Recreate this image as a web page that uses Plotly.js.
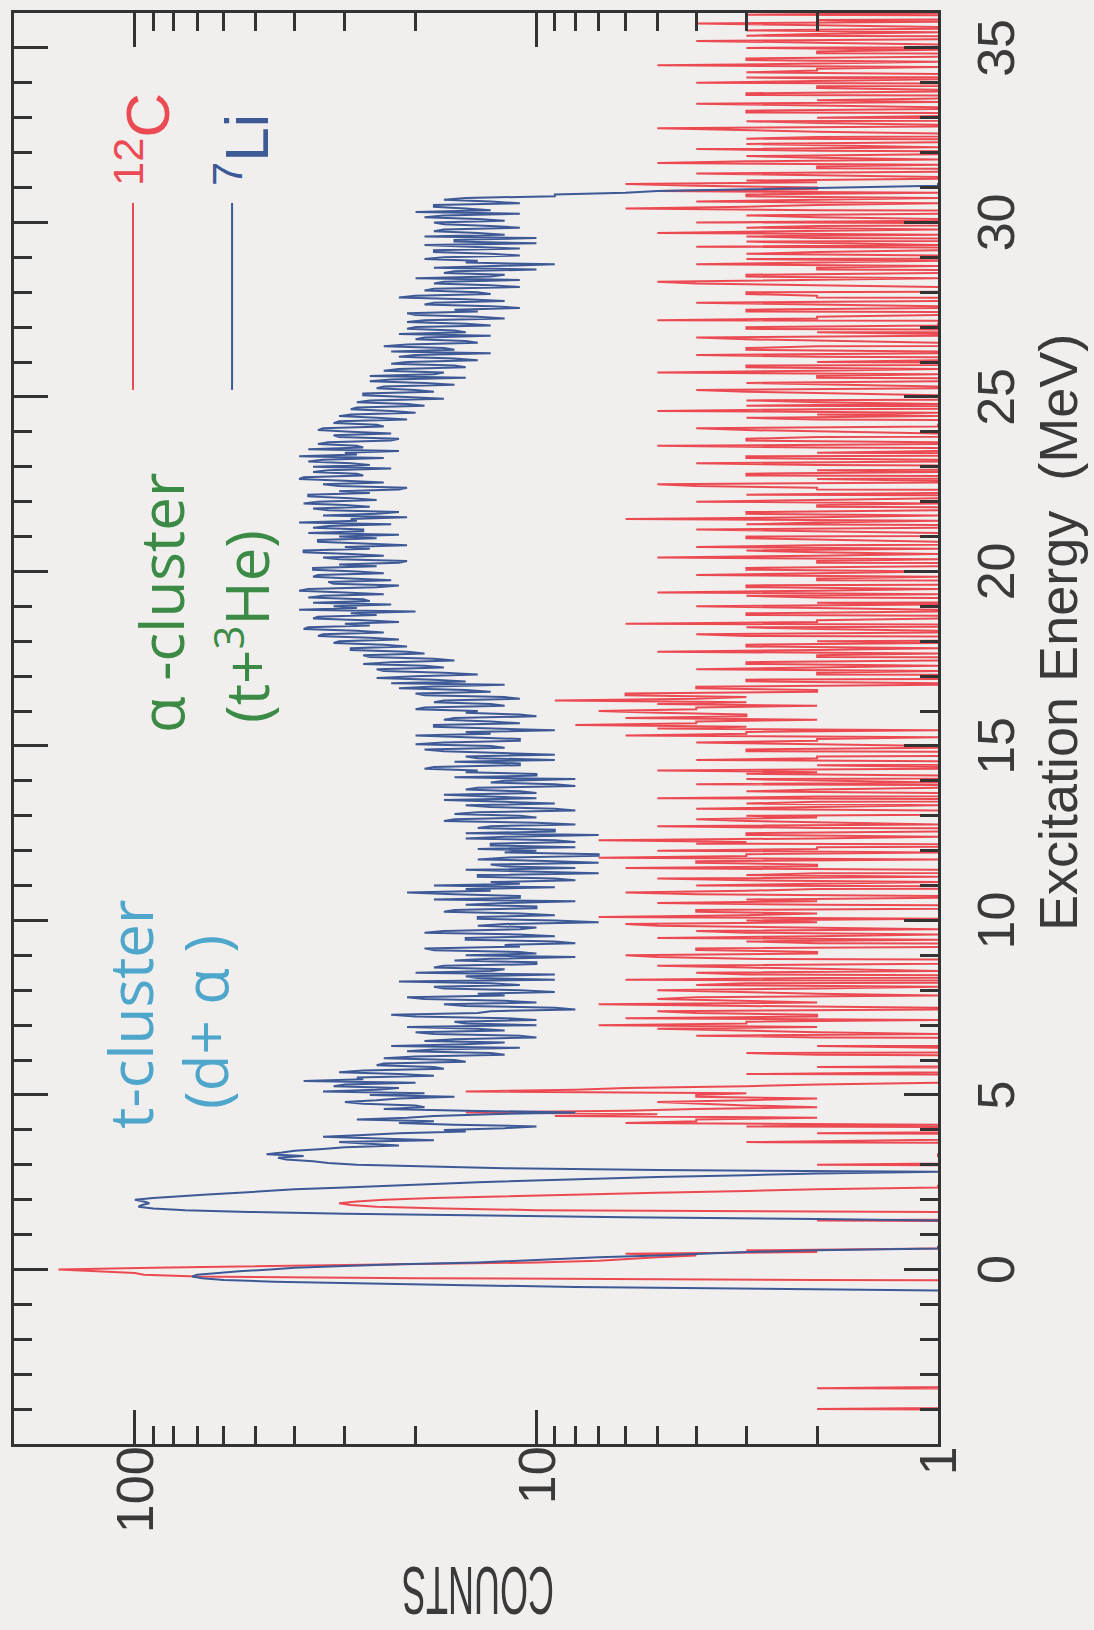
<!DOCTYPE html>
<html>
<head>
<meta charset="utf-8">
<script src="https://cdn.plot.ly/plotly-3.0.1.min.js"></script>
<style>
  html, body { margin: 0; padding: 0; background: #f1eeee; width: 1094px; height: 1630px; overflow: hidden; }
  /* The spectrum is laid out landscape and turned a quarter turn counter-clockwise on the page. */
  #spectrum { position: absolute; left: 0; top: 1630px; width: 1630px; height: 1094px;
              transform-origin: 0 0; transform: rotate(-90deg); }
</style>
</head>
<body>
<div id="spectrum"></div>
<script>
// Histogram channels: 0.05 MeV wide; first channel centre given per spectrum.
const BIN_WIDTH = 0.05;
const LI7_START = -1.0;
const C12_START = -4.5;

// 7Li target, counts per channel, one MeV per row, from -1.0 MeV to 31.5 MeV
const li7Counts = [
  0, 0, 0, 0, 0, 0, 0, 0, 1, 3, 8, 15, 30, 45, 60, 68, 72, 70, 62, 55,              // -1
  46, 40, 30, 22, 14, 11, 9, 7, 5, 4, 3, 2, 1, 1, 0, 0, 0, 0, 0, 0,                 //  0
  0, 0, 0, 0, 0, 0, 0, 0, 1, 2, 6, 14, 30, 52, 75, 90, 98, 96, 92, 95,              //  1
  100, 90, 78, 66, 55, 48, 40, 30, 22, 18, 14, 10, 8, 5, 3, 2, 1, 5, 12, 20,        //  2
  28, 33, 36, 42, 44, 38, 47, 43, 40, 34, 30, 22, 26, 31, 18, 25, 34, 27, 22, 15,   //  3
  17, 12, 10, 16, 22, 18, 28, 21, 18, 13, 8, 15, 24, 19, 20, 27, 30, 25, 22, 16,    //  4
  26, 19, 34, 25, 22, 32, 30, 20, 38, 27, 28, 18, 22, 31, 27, 17, 18, 25, 24, 15,   //  5
  16, 24, 20, 12, 13, 21, 18, 11, 23, 15, 12, 19, 16, 10, 11, 18, 20, 12, 14, 21,   //  6
  10, 15, 16, 10, 12, 20, 23, 14, 13, 8, 9, 15, 17, 10, 12, 19, 21, 12, 14, 9,      //  7
  11, 17, 18, 11, 13, 22, 9, 14, 15, 9, 20, 13, 12, 18, 17, 10, 10, 16, 13, 8,      //  8
  15, 10, 11, 18, 19, 11, 12, 8, 9, 15, 15, 9, 11, 19, 17, 11, 10, 14, 12, 7,       //  9
  9, 14, 14, 9, 11, 17, 16, 10, 10, 15, 12, 8, 18, 11, 11, 16, 21, 13, 15, 9,       // 10
  18, 11, 13, 8, 9, 14, 14, 7, 10, 15, 8, 12, 13, 7, 9, 14, 12, 7, 7, 12,           // 11
  10, 14, 8, 13, 13, 8, 9, 15, 12, 7, 15, 9, 9, 14, 13, 8, 10, 17, 16, 10,          // 12
  11, 16, 14, 8, 9, 13, 15, 9, 12, 17, 10, 14, 17, 10, 11, 15, 14, 8, 9, 13,        // 13
  12, 8, 16, 10, 10, 15, 14, 19, 18, 11, 11, 16, 9, 14, 15, 9, 12, 17, 19, 12,      // 14
  13, 20, 17, 11, 11, 16, 20, 13, 15, 9, 12, 18, 18, 11, 13, 17, 16, 10, 11, 15,    // 15
  14, 20, 19, 12, 13, 18, 17, 11, 12, 19, 20, 13, 15, 22, 18, 12, 23, 15, 18, 25,   // 16
  20, 14, 17, 24, 25, 17, 19, 27, 23, 16, 18, 26, 27, 19, 21, 29, 29, 21, 24, 32,   // 17
  31, 22, 26, 35, 34, 24, 28, 38, 37, 26, 30, 22, 27, 36, 35, 25, 29, 20, 39, 28,   // 18
  32, 23, 36, 26, 27, 37, 34, 24, 30, 39, 37, 25, 22, 32, 33, 23, 29, 36, 35, 24,   // 19
  28, 36, 36, 25, 31, 22, 21, 31, 34, 24, 29, 38, 38, 26, 30, 21, 27, 35, 35, 25,   // 20
  31, 22, 37, 27, 27, 36, 33, 23, 39, 28, 29, 21, 34, 25, 22, 33, 36, 26, 30, 38,   // 21
  35, 25, 29, 37, 37, 26, 31, 22, 21, 31, 34, 24, 30, 39, 38, 27, 28, 36, 33, 23,   // 22
  36, 26, 29, 37, 34, 24, 39, 28, 30, 22, 37, 27, 28, 35, 33, 23, 22, 31, 32, 23,   // 23
  29, 35, 34, 24, 25, 32, 31, 21, 25, 31, 29, 20, 23, 29, 28, 19, 21, 28, 26, 17,   // 24
  21, 27, 27, 18, 20, 25, 24, 16, 19, 26, 23, 15, 26, 18, 17, 24, 22, 15, 16, 23,   // 25
  21, 14, 16, 22, 20, 13, 23, 16, 17, 24, 21, 14, 15, 20, 19, 13, 22, 15, 16, 21,   // 26
  20, 13, 15, 21, 19, 12, 14, 20, 21, 14, 16, 11, 13, 19, 18, 12, 15, 22, 20, 13,   // 27
  14, 19, 18, 11, 13, 18, 17, 11, 20, 13, 12, 17, 16, 10, 18, 12, 9, 15, 14, 19,    // 28
  17, 11, 13, 18, 18, 11, 14, 19, 10, 16, 16, 10, 19, 12, 14, 18, 17, 11, 13, 17,   // 29
  18, 12, 14, 19, 17, 11, 20, 13, 15, 18, 18, 11, 13, 17, 15, 9, 9, 6, 5, 3,        // 30
  2, 1, 1, 0, 0, 0, 0, 0, 0, 0, 0                                                   // 31
];

// 12C target, counts per channel, one MeV per row, from -4.5 MeV to 36.0 MeV
const c12Counts = [
  0, 0, 0, 0, 0, 0, 0, 0, 0, 0, 2, 0, 0, 0, 0, 0, 0, 0, 0, 0,                       // -4.5
  0, 0, 2, 0, 0, 0, 0, 0, 0, 0, 0, 0, 0, 0, 0, 0, 0, 0, 0, 0,                       // -3.5
  0, 0, 0, 0, 0, 0, 0, 0, 0, 0, 0, 0, 0, 0, 0, 0, 0, 0, 0, 0,                       // -2.5
  0, 0, 0, 0, 0, 0, 0, 0, 0, 0, 0, 0, 0, 0, 0, 0, 0, 0, 0, 0,                       // -1.5
  0, 0, 0, 0, 2, 20, 70, 95, 100, 130, 155, 90, 47, 22, 10, 7, 6, 5, 4, 6,          // -0.5
  2, 3, 1, 0, 0, 0, 0, 0, 0, 0, 0, 0, 0, 0, 0, 0, 0, 0, 2, 0,                       //  0.5
  0, 0, 0, 1, 10, 17, 25, 29, 31, 28, 24, 18, 12, 8, 5, 3, 2, 1, 1, 0,              //  1.5
  0, 0, 0, 0, 1, 0, 0, 0, 0, 0, 2, 0, 0, 0, 0, 1, 1, 0, 0, 0,                       //  2.5
  0, 0, 0, 3, 1, 0, 0, 0, 2, 0, 0, 0, 3, 1, 6, 4, 4, 2, 9, 5,                       //  3.5
  15, 6, 4, 2, 3, 4, 5, 3, 2, 4, 4, 3, 15, 8, 6, 3, 2, 1, 0, 0,                     //  4.5
  1, 0, 3, 1, 0, 0, 2, 0, 0, 1, 1, 0, 0, 2, 3, 0, 0, 1, 2, 0,                       //  5.5
  1, 0, 0, 2, 4, 1, 2, 3, 5, 2, 7, 3, 3, 1, 6, 2, 2, 4, 5, 1,                       //  6.5
  1, 3, 7, 2, 3, 5, 4, 1, 2, 3, 5, 2, 1, 4, 3, 0, 6, 2, 0, 3,                       //  7.5
  4, 1, 2, 3, 5, 2, 1, 0, 3, 5, 6, 2, 2, 4, 4, 1, 0, 2, 3, 1,                       //  8.5
  5, 2, 1, 3, 4, 1, 2, 5, 6, 2, 3, 1, 7, 3, 2, 4, 4, 1, 0, 2,                       //  9.5
  5, 2, 3, 1, 1, 4, 6, 3, 2, 0, 4, 2, 1, 3, 5, 1, 3, 2, 0, 1,                       // 10.5
  6, 2, 2, 4, 4, 1, 7, 3, 3, 1, 5, 2, 2, 0, 4, 3, 7, 2, 1, 3,                       // 11.5
  3, 1, 0, 2, 5, 1, 2, 3, 4, 2, 3, 0, 0, 1, 4, 2, 1, 3, 2, 0,                       // 12.5
  5, 2, 0, 1, 3, 2, 1, 0, 4, 1, 2, 3, 0, 1, 3, 2, 5, 1, 1, 2,                       // 13.5
  0, 1, 4, 2, 2, 0, 0, 3, 3, 1, 1, 2, 4, 2, 2, 1, 6, 3, 3, 1,                       // 14.5
  5, 3, 8, 4, 4, 2, 6, 3, 3, 5, 7, 4, 4, 2, 5, 3, 9, 4, 3, 6,                       // 15.5
  6, 2, 2, 4, 4, 1, 1, 3, 3, 0, 0, 2, 2, 1, 4, 2, 1, 3, 3, 1,                       // 16.5
  0, 2, 2, 1, 5, 2, 1, 3, 3, 1, 2, 0, 0, 3, 4, 1, 1, 2, 3, 0,                       // 17.5
  6, 2, 2, 1, 0, 3, 3, 1, 1, 2, 4, 1, 2, 0, 0, 2, 3, 1, 5, 2,                       // 18.5
  1, 3, 3, 0, 0, 2, 2, 1, 4, 2, 1, 3, 3, 1, 0, 2, 2, 1, 5, 2,                       // 19.5
  1, 2, 3, 1, 4, 2, 0, 1, 2, 3, 3, 0, 1, 2, 4, 1, 0, 3, 2, 1,                       // 20.5
  6, 2, 1, 3, 3, 1, 0, 2, 2, 1, 4, 2, 1, 0, 3, 1, 0, 2, 2, 4,                       // 21.5
  5, 1, 1, 2, 0, 3, 3, 1, 2, 0, 0, 2, 4, 1, 1, 3, 3, 0, 2, 1,                       // 22.5
  0, 2, 5, 1, 1, 3, 3, 2, 0, 1, 2, 3, 4, 1, 1, 0, 0, 2, 3, 1,                       // 23.5
  2, 1, 5, 2, 0, 3, 1, 2, 3, 0, 0, 1, 2, 3, 4, 1, 1, 2, 3, 1,                       // 24.5
  0, 2, 2, 1, 5, 2, 1, 3, 3, 0, 2, 1, 0, 2, 4, 1, 1, 3, 3, 2,                       // 25.5
  0, 1, 2, 3, 4, 1, 1, 2, 0, 3, 3, 1, 1, 0, 5, 2, 2, 1, 0, 3,                       // 26.5
  3, 1, 1, 2, 4, 1, 0, 2, 2, 3, 3, 0, 0, 1, 2, 4, 5, 2, 1, 3,                       // 27.5
  3, 1, 0, 2, 2, 1, 4, 2, 1, 3, 0, 1, 3, 2, 1, 0, 4, 1, 2, 3,                       // 28.5
  0, 2, 3, 1, 5, 2, 1, 3, 2, 0, 4, 1, 1, 2, 3, 1, 0, 2, 6, 3,                       // 29.5
  2, 1, 4, 2, 1, 3, 3, 1, 5, 2, 2, 4, 6, 2, 3, 1, 1, 2, 4, 1,                       // 30.5
  0, 2, 2, 1, 5, 3, 1, 2, 3, 1, 0, 2, 4, 1, 2, 3, 1, 0, 3, 2,                       // 31.5
  0, 1, 2, 3, 5, 1, 1, 2, 3, 0, 2, 1, 0, 3, 3, 1, 1, 2, 4, 1,                       // 32.5
  2, 1, 0, 3, 3, 1, 1, 2, 2, 0, 4, 2, 1, 3, 0, 1, 3, 2, 2, 1,                       // 33.5
  5, 2, 1, 3, 3, 1, 0, 2, 2, 1, 3, 0, 1, 2, 4, 1, 0, 3, 2, 1,                       // 34.5
  3, 1, 1, 2, 4, 1, 2, 0, 0, 3, 1                                                   // 35.5
];

// Axis ticks
const energyTicks = [0, 5, 10, 15, 20, 25, 30, 35];
const energyTickText = ['0', '5', '10', '15', '20', '25', '30', '35'];
const countTicks = [1, 10, 100];
const countTickText = ['1', '10', '100'];
const countMinorTicks = [2, 3, 4, 5, 6, 7, 8, 9, 20, 30, 40, 50, 60, 70, 80, 90];
const energyRange = [-5, 36];
const countRange = [1, 200];

// Text drawn on the plot
const seriesNames = ['<sup>12</sup>C', '<sup>7</sup>Li'];
const seriesColors = ['#ec4a52', '#3d5996'];
const clusterLabels = [
  { text: 't-cluster', color: '#4ea6ca' },
  { text: '(d+ α )', color: '#4ea6ca' },
  { text: 'α -cluster', color: '#3b8b47' },
  { text: '(t+<sup>3</sup>He)', color: '#3b8b47' }
];
const energyTitle = 'Excitation Energy\u00a0\u00a0(MeV)';
const countTitle = 'COUNTS';

function channelEnergies(start, n) {
  const e = [];
  for (let i = 0; i < n; i++) e.push(Math.round((start + i * BIN_WIDTH) * 100) / 100);
  return e;
}

// Empty channels have no place on a log axis: send them below the frame so the trace drops out of view.
const EMPTY_LEVEL = 0.1;
function drawable(counts) { return counts.map(c => (c > 0 ? c : EMPTY_LEVEL)); }

const traces = [
  { x: channelEnergies(C12_START, c12Counts.length), y: drawable(c12Counts),
    type: 'scatter', mode: 'lines', name: '12C',
    line: { color: seriesColors[0], width: 2.0 } },
  { x: channelEnergies(LI7_START, li7Counts.length), y: drawable(li7Counts),
    type: 'scatter', mode: 'lines', name: '7Li',
    line: { color: seriesColors[1], width: 2.0 } }
];

const AXIS_COLOR = '#333333';
const TEXT_COLOR = '#3a3a3a';
const SANS = 'Liberation Sans, Arial, sans-serif';
const numFont = { family: SANS, size: 52, color: TEXT_COLOR };
const labelFont = (color, size) => ({ family: 'Open Sans, Noto Sans, sans-serif', size: size, color: color });

const layout = {
  width: 1630, height: 1094,
  margin: { l: 186, r: 13, t: 14, b: 156 },
  paper_bgcolor: '#f1eeee', plot_bgcolor: '#f1eeee',
  showlegend: false,
  xaxis: {
    range: energyRange, tickmode: 'array', tickvals: energyTicks, ticktext: energyTickText,
    ticks: 'inside', ticklen: 34, tickwidth: 3, tickcolor: AXIS_COLOR,
    showline: true, linewidth: 3, linecolor: AXIS_COLOR, mirror: 'allticks',
    showgrid: false, zeroline: false, tickfont: numFont, ticklabelstandoff: 11,
    minor: { dtick: 1, tick0: 0, ticks: 'inside', ticklen: 18, tickwidth: 3, tickcolor: AXIS_COLOR, showgrid: false }
  },
  yaxis: {
    type: 'log', range: countRange.map(Math.log10),
    tickmode: 'array', tickvals: countTicks, ticktext: countTickText,
    ticks: 'inside', ticklen: 34, tickwidth: 3, tickcolor: AXIS_COLOR,
    showline: true, linewidth: 3, linecolor: AXIS_COLOR, mirror: 'allticks',
    showgrid: false, zeroline: false, tickfont: numFont, ticklabelstandoff: -11,
    minor: { tickmode: 'array', tickvals: countMinorTicks, ticks: 'inside', ticklen: 18, tickwidth: 3, tickcolor: AXIS_COLOR, showgrid: false }
  },
  shapes: [
    { type: 'line', xref: 'paper', yref: 'paper', x0: 0.7366, x1: 0.8673, y0: 0.8712, y1: 0.8712,
      line: { color: seriesColors[0], width: 2 } },
    { type: 'line', xref: 'paper', yref: 'paper', x0: 0.7366, x1: 0.8673, y0: 0.764, y1: 0.764,
      line: { color: seriesColors[1], width: 2 } }
  ],
  annotations: [
    { text: seriesNames[0], xref: 'paper', yref: 'paper', x: 0.8777, y: 0.860, xanchor: 'left', yanchor: 'middle',
      showarrow: false, font: { family: SANS, size: 62, color: seriesColors[0] } },
    { text: seriesNames[1], xref: 'paper', yref: 'paper', x: 0.8777, y: 0.753, xanchor: 'left', yanchor: 'middle',
      showarrow: false, font: { family: SANS, size: 62, color: seriesColors[1] } },
    { text: clusterLabels[0].text, xref: 'paper', yref: 'paper', x: 0.3005, y: 0.8745, xanchor: 'center', yanchor: 'middle',
      showarrow: false, font: labelFont(clusterLabels[0].color, 60) },
    { text: clusterLabels[1].text, xref: 'paper', yref: 'paper', x: 0.2949, y: 0.793, xanchor: 'center', yanchor: 'middle',
      showarrow: false, font: labelFont(clusterLabels[1].color, 60) },
    { text: clusterLabels[2].text, xref: 'paper', yref: 'paper', x: 0.5877, y: 0.841, xanchor: 'center', yanchor: 'middle',
      showarrow: false, font: labelFont(clusterLabels[2].color, 60) },
    { text: clusterLabels[3].text, xref: 'paper', yref: 'paper', x: 0.571, y: 0.752, xanchor: 'center', yanchor: 'middle',
      showarrow: false, font: labelFont(clusterLabels[3].color, 60) },
    { text: energyTitle, xref: 'paper', yref: 'paper', x: 0.5674, y: -0.130, xanchor: 'center', yanchor: 'middle',
      showarrow: false, font: { family: SANS, size: 54, color: TEXT_COLOR } },
    { text: countTitle, xref: 'paper', yref: 'paper', x: -0.103, y: 0.498, xanchor: 'center', yanchor: 'middle',
      textangle: -90, showarrow: false, font: { family: SANS, size: 68, color: TEXT_COLOR } }
  ]
};

// Width, in px, of the narrow count-axis caption.
const COUNT_TITLE_LENGTH = 152;

Plotly.newPlot('spectrum', traces, layout, { staticPlot: true, displayModeBar: false }).then(gd => {
  // The count-axis caption is set in a narrow face: squeeze its glyphs to the caption width.
  gd.querySelectorAll('.annotation-text').forEach(t => {
    if (t.textContent === countTitle) {
      t.setAttribute('textLength', String(COUNT_TITLE_LENGTH));
      t.setAttribute('lengthAdjust', 'spacingAndGlyphs');
    }
  });
});
</script>
</body>
</html>
